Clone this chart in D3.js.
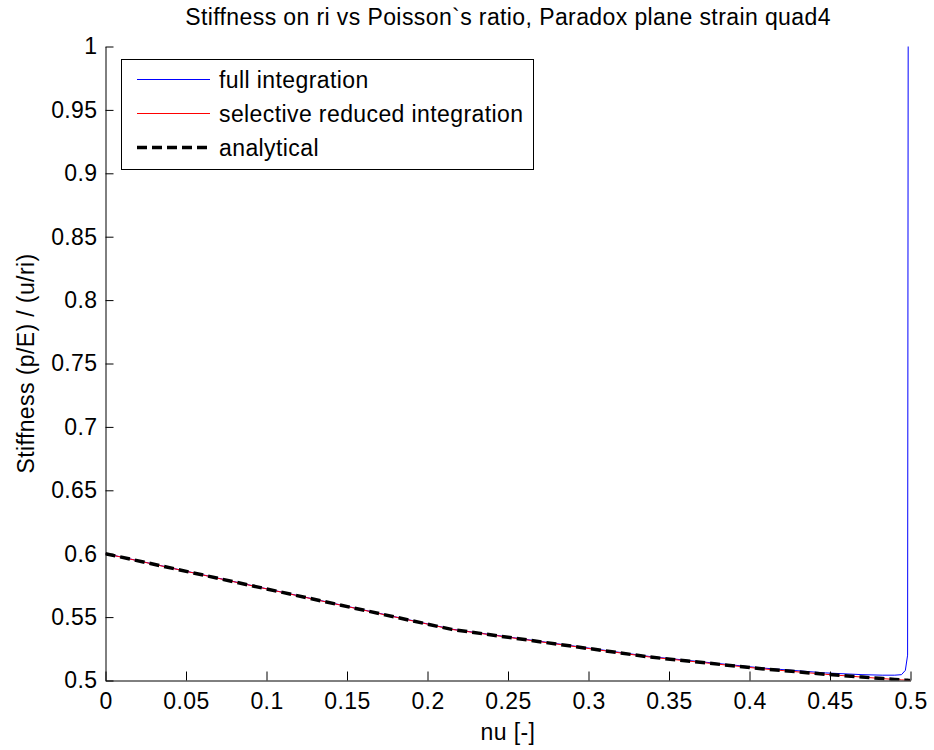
<html>
<head>
<title>Stiffness vs Poisson ratio</title>
<script src="https://cdn.jsdelivr.net/npm/d3@7"></script>
<style>
body{
    margin: 0;
    background: #fff;
    font-family: "Liberation Sans", Arial, sans-serif;
}
svg text { font-size: 23px; fill: #000; letter-spacing: 0.4px; }
</style>
</head>
<body>
<div id="chart"></div>
<script>
// Poisson's ratio samples (nu)
var nu = [0, 0.215, 0.3375, 0.4074, 0.4472, 0.4699, 0.4828, 0.4902, 0.4944,
          0.4968, 0.4982, 0.4990, 0.4994, 0.4997, 0.4998, 0.4999];
var fullInt = [0.6001, 0.5405, 0.5190, 0.5099, 0.5060, 0.5046, 0.5042, 0.5042, 0.5046,
               0.5080, 0.5200, 1.6, 2.8, 6.0, 9.5, 19.0];
var selRed = [0.6000, 0.5403, 0.5186, 0.5093, 0.5049, 0.5027, 0.5015, 0.5008, 0.5005,
              0.5003, 0.5002, 0.5001, 0.5001, 0.5000, 0.5000, 0.5000];
var analytical = [0.6000, 0.5403, 0.5186, 0.5093, 0.5049, 0.5027, 0.50149, 0.50083, 0.50047,
                  0.50027, 0.50015, 0.50008, 0.50005, 0.50003, 0.50002, 0.50001];
var xTicks = [0, 0.05, 0.1, 0.15, 0.2, 0.25, 0.3, 0.35, 0.4, 0.45, 0.5];
var yTicks = [0.5, 0.55, 0.6, 0.65, 0.7, 0.75, 0.8, 0.85, 0.9, 0.95, 1];
var seriesNames = ['full integration', 'selective reduced integration', 'analytical'];

drawChart();

function drawChart() {
    var W = 934, H = 750,
        pLeft = 105.5, pRight = 910.5, pTop = 46.5, pBottom = 680.5;

    var svg = d3.select('#chart').append('svg')
        .attr('width', W).attr('height', H);

    var x = d3.scaleLinear().domain([0, 0.5]).range([pLeft, pRight]);
    var y = d3.scaleLinear().domain([0.5, 1]).range([pBottom, pTop]);

    svg.append('clipPath').attr('id', 'clip')
        .append('rect')
        .attr('x', pLeft).attr('y', pTop)
        .attr('width', pRight - pLeft).attr('height', pBottom - pTop);

    function series(vals) {
        return nu.map(function(n, i) { return {x: n, y: vals[i]}; });
    }
    var line = d3.line()
        .x(function(d) { return x(d.x); })
        .y(function(d) { return y(d.y); });

    var g = svg.append('g').attr('clip-path', 'url(#clip)');
    g.append('path').datum(series(fullInt))
        .attr('d', line).attr('fill', 'none')
        .attr('stroke', '#0000ff').attr('stroke-width', 1);
    g.append('path').datum(series(selRed))
        .attr('d', line).attr('fill', 'none')
        .attr('stroke', '#ff0000').attr('stroke-width', 1);
    g.append('path').datum(series(analytical))
        .attr('d', line).attr('fill', 'none')
        .attr('stroke', '#000').attr('stroke-width', 3.5)
        .attr('stroke-dasharray', '10,5');

    // axes, ticks inside like matlab, no box
    var xAxis = d3.axisBottom(x).tickValues(xTicks).tickSizeInner(-9).tickSizeOuter(0)
        .tickPadding(12).tickFormat(d3.format('~g'));
    var yAxis = d3.axisLeft(y).tickValues(yTicks).tickSizeInner(-8).tickSizeOuter(0)
        .tickPadding(8).tickFormat(d3.format('~g'));

    var gx = svg.append('g').attr('transform', 'translate(0,' + pBottom + ')').call(xAxis);
    var gy = svg.append('g').attr('transform', 'translate(' + pLeft + ',0)').call(yAxis);
    [gx, gy].forEach(function(a) {
        a.attr('font-size', null).attr('font-family', null);
        a.selectAll('path, line').attr('stroke', '#000');
    });

    svg.append('text')
        .attr('x', (pLeft + pRight) / 2).attr('y', 25)
        .attr('text-anchor', 'middle')
        .text('Stiffness on ri vs Poisson`s ratio, Paradox plane strain quad4');
    svg.append('text')
        .attr('x', (pLeft + pRight) / 2).attr('y', 740)
        .attr('text-anchor', 'middle')
        .text('nu [-]');
    svg.append('text')
        .attr('transform', 'translate(34,' + ((pTop + pBottom) / 2) + ') rotate(-90)')
        .attr('text-anchor', 'middle')
        .text('Stiffness (p/E) / (u/ri)');

    // legend
    var leg = svg.append('g');
    leg.append('rect')
        .attr('x', 121.5).attr('y', 59.5).attr('width', 412).attr('height', 110)
        .attr('fill', '#fff').attr('stroke', '#000').attr('stroke-width', 1);
    var legStyle = [
        {c: '#0000ff', w: 1, d: null},
        {c: '#ff0000', w: 1, d: null},
        {c: '#000', w: 3.5, d: '10,5'}
    ];
    var legY = d3.scalePoint().domain(seriesNames).range([79.5, 147.5]);
    seriesNames.forEach(function(s, i) {
        leg.append('line')
            .attr('x1', 137).attr('x2', 210)
            .attr('y1', legY(s)).attr('y2', legY(s))
            .attr('stroke', legStyle[i].c).attr('stroke-width', legStyle[i].w)
            .attr('stroke-dasharray', legStyle[i].d);
        leg.append('text')
            .attr('x', 219).attr('y', legY(s)).attr('dy', '0.35em')
            .text(s);
    });
}
</script>
</body>
</html>
